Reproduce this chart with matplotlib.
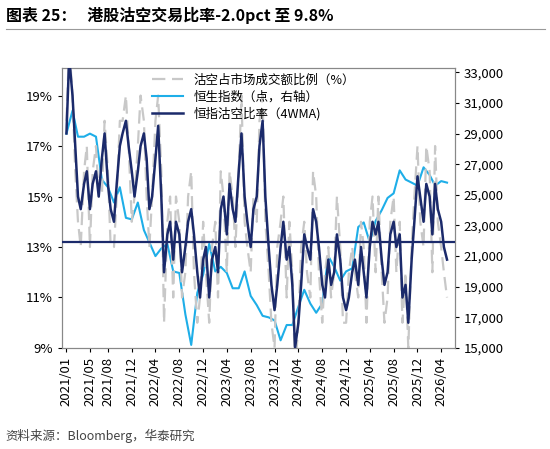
import matplotlib
matplotlib.use("Agg")
import matplotlib.pyplot as plt
import matplotlib.dates as mdates
import pandas as pd

plt.rcParams['font.family'] = ['Noto Sans CJK SC', 'DejaVu Sans']

ratio_4wma = [17.5,20.5,19.0,17.0,15.0,14.5,15.5,16.0,14.5,15.5,16.0,15.0,16.5,17.5,15.5,14.5,14.0,15.5,17.0,17.5,18.0,17.0,16.0,15.0,
              16.0,17.0,17.5,16.5,14.5,15.0,16.5,17.8,15.0,12.0,13.5,14.0,12.5,14.0,13.5,12.0,13.0,14.0,14.5,13.5,12.0,11.0,12.5,13.0,
              11.0,12.5,13.0,12.0,14.5,15.0,13.5,15.5,14.5,14.0,16.0,17.5,15.0,14.0,13.0,14.5,15.0,17.0,18.0,15.0,13.0,11.5,10.5,11.5,
              13.0,14.0,12.5,13.0,11.5,9.0,10.0,11.5,13.5,13.0,12.5,14.5,14.0,13.0,11.5,11.0,12.5,11.5,12.0,13.5,12.5,11.0,10.5,11.0,
              12.0,12.5,11.5,13.0,12.0,11.0,13.0,14.0,13.5,14.0,12.5,11.5,12.0,13.5,14.0,13.0,13.5,11.0,11.5,10.0,12.5,14.0,15.8,15.0,
              14.0,15.5,15.0,13.5,15.5,14.5,14.0,13.0,12.5]
ratio_raw = [18,21,19,16,14,13,16,17,13,16,17,15,15,18,16,13,13,15,18,18,19,17,14,15,
             17,19,18,15,13,15,18,19,16,10,14,15,11,15,14,11,12,15,16,12,10,11,14,12,
             10,13,14,11,16,15,12,16,15,13,16,19,14,13,12,15,14,18,19,14,12,10,9,13,
             14,15,11,14,12,8,10,13,14,12,11,16,15,12,10,12,13,11,12,15,13,10,10,12,
             13,12,11,14,13,10,14,15,12,15,12,10,11,14,15,12,14,10,12,9,13,15,17,14,
             13,17,16,12,17,14,13,12,11]
hsi = [29000,30500,28800,28800,29000,28800,26000,25500,24500,25500,23500,23400,
       24500,22700,21900,21000,21500,21800,20000,19900,17200,15200,18600,19800,
       21800,20000,20300,19900,18900,18900,20000,18400,17800,17100,17000,16800,
       15500,16500,16500,17700,18800,17900,17300,17900,21000,20300,19400,20000,
       20200,22900,23200,21900,23300,24000,24800,25100,26600,26000,25800,25600,
       26800,26300,25600,25900,25800]
ref_level = 13.2
tick_labels = ['2021/01','2021/05','2021/08','2021/12','2022/04','2022/08','2022/12','2023/04',
               '2023/08','2023/12','2024/04','2024/08','2024/12','2025/04','2025/08','2025/12','2026/04']

d_ratio = pd.date_range('2021-01-01', periods=len(ratio_4wma), freq='SMS')
d_hsi = pd.date_range('2021-01-01', periods=len(hsi), freq='MS')

fig = plt.figure(figsize=(5.5, 4.49), dpi=100)
ax = fig.add_axes([0.113, 0.225, 0.714, 0.624])
ax2 = ax.twinx()

navy = '#1B2A6B'; light = '#1EAEE8'; gray = '#C8C8C8'
l1, = ax.plot(d_ratio, ratio_raw, color=gray, lw=1.6, ls=(0, (6, 3)), label='沽空占市场成交额比例（%）')
l3, = ax.plot(d_ratio, ratio_4wma, color=navy, lw=1.8, label='恒指沽空比率（4WMA)', zorder=4)
ax.axhline(ref_level, color=navy, lw=1.6, zorder=5)
l2, = ax2.plot(d_hsi, hsi, color=light, lw=1.5, label='恒生指数（点，右轴）')
ax.set_zorder(ax2.get_zorder() + 1); ax.patch.set_visible(False)

ax.set_ylim(9, 20.1)
ax.set_yticks([9, 11, 13, 15, 17, 19])
ax.set_yticklabels([f'{v}%' for v in [9, 11, 13, 15, 17, 19]])
ax2.set_ylim(15000, 33300)
ax2.set_yticks(range(15000, 33001, 2000))
ax2.set_yticklabels([f'{v:,}' for v in range(15000, 33001, 2000)])

tick_dates = [pd.Timestamp(t.replace('/', '-') + '-01') for t in tick_labels]
ax.set_xticks(tick_dates)
ax.set_xticklabels(tick_labels, rotation=90)
ax.set_xlim(pd.Timestamp('2020-12-10'), pd.Timestamp('2026-06-10'))
for a in (ax, ax2):
    a.tick_params(labelsize=9.5, direction='out', length=3)
    for s in a.spines.values():
        s.set_color('#888888')

ax.legend(handles=[l1, l2, l3], loc='upper left', bbox_to_anchor=(0.2, 1.02), frameon=False,
          fontsize=9, handlelength=2.5, labelspacing=0.3)

fig.text(0.01, 0.965, '图表 25：   港股沽空交易比率-2.0pct 至 9.8%', fontsize=11.5, fontweight='bold', va='center')
fig.add_artist(plt.Line2D([0.01, 0.99], [0.935, 0.935], color='#999999', lw=0.8))
fig.text(0.01, 0.02, '资料来源：Bloomberg，华泰研究', fontsize=9, color='#444444')
fig.savefig('out.png', dpi=100)
